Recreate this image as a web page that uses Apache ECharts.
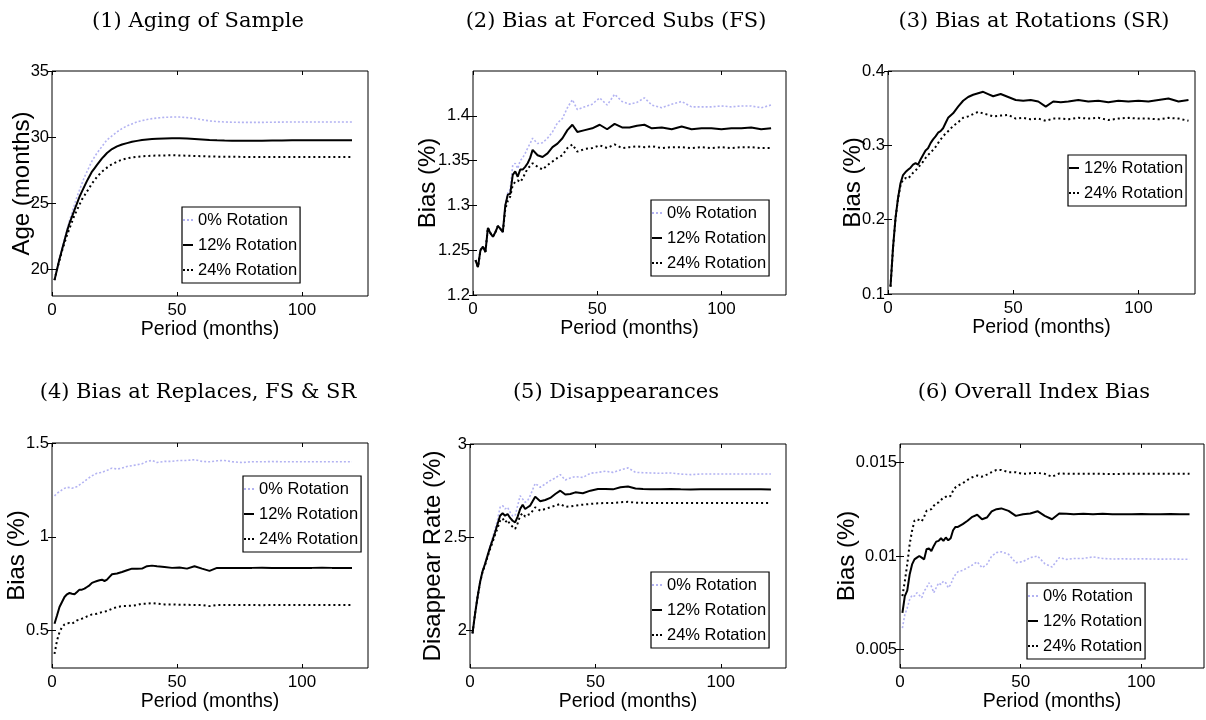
<!DOCTYPE html>
<html>
<head>
<meta charset="utf-8">
<script src="https://cdn.jsdelivr.net/npm/echarts@6.0.0/dist/echarts.min.js"></script>
<style>
  html, body { margin: 0; padding: 0; background: #fff; }
  #chart { width: 1206px; height: 720px; }
</style>
</head>
<body>
<div id="chart"></div>
<script>
// sampled months (x values shared by all panels)
var periods = [1,2,3,4,5,6,7,8,9,10,11,12,13,14,15,16,17,18,19,20,21,22,23,24,
  26,28,30,32,34,36,38,40,
  42,45,48,51,54,57,60,63,66,69,72,
  76,80,84,88,92,96,100,104,108,112,116,120];

var seriesNames = ['0% Rotation', '12% Rotation', '24% Rotation'];
var panelTitles = ['(1) Aging of Sample', '(2) Bias at Forced Subs (FS)', '(3) Bias at Rotations (SR)',
  '(4) Bias at Replaces, FS & SR', '(5) Disappearances', '(6) Overall Index Bias'];
var yNames = ['Age (months)', 'Bias (%)', 'Bias (%)', 'Bias (%)', 'Disappear Rate (%)', 'Bias (%)'];
var xTicks = [0, 50, 100];
var yTicks1 = [20, 25, 30, 35];
var yTicks2 = [1.2, 1.25, 1.3, 1.35, 1.4];
var yTicks3 = [0.1, 0.2, 0.3, 0.4];
var yTicks4 = [0.5, 1, 1.5];
var yTicks5 = [2, 2.5, 3];
var yTicks6 = [0.005, 0.01, 0.015];

// (1) aging of sample
var age0 = [19.2,20.0,20.8,21.6,22.3,23.0,23.7,24.3,24.9,25.5,26.0,26.5,27.0,27.4,27.8,28.2,28.5,28.8,29.05,29.3,29.55,29.8,29.95,30.1,
  30.4,30.65,30.85,31.0,31.15,31.25,31.33,31.4,
  31.45,31.5,31.52,31.52,31.48,31.42,31.32,31.23,31.18,31.15,31.13,
  31.12,31.12,31.12,31.13,31.14,31.15,31.15,31.15,31.15,31.15,31.15,31.15];
var age12 = [19.2,20.0,20.8,21.5,22.2,22.9,23.5,24.0,24.5,25.0,25.5,25.9,26.3,26.7,27.05,27.4,27.65,27.9,28.15,28.4,28.6,28.8,28.95,29.1,
  29.3,29.45,29.55,29.65,29.72,29.78,29.83,29.86,
  29.88,29.9,29.92,29.92,29.9,29.87,29.83,29.79,29.76,29.74,29.73,
  29.73,29.73,29.73,29.74,29.75,29.76,29.76,29.76,29.76,29.76,29.76,29.76];
var age24 = [19.2,20.0,20.7,21.4,22.0,22.6,23.1,23.6,24.1,24.5,24.9,25.3,25.6,25.9,26.2,26.5,26.75,27.0,27.2,27.4,27.55,27.7,27.85,27.95,
  28.15,28.3,28.4,28.47,28.52,28.55,28.58,28.6,
  28.61,28.62,28.63,28.62,28.6,28.58,28.56,28.54,28.53,28.52,28.52,
  28.51,28.51,28.5,28.5,28.5,28.5,28.5,28.5,28.5,28.5,28.5,28.5];

// (2) bias at forced subs
var fs0 = [1.239,1.231,1.250,1.254,1.248,1.275,1.269,1.265,1.270,1.277,1.274,1.270,1.302,1.314,1.318,1.345,1.347,1.341,1.350,1.353,1.358,1.364,1.369,1.375,
  1.369,1.370,1.375,1.382,1.392,1.397,1.409,1.418,
  1.407,1.410,1.413,1.420,1.412,1.424,1.416,1.413,1.415,1.420,1.412,
  1.409,1.413,1.416,1.410,1.410,1.410,1.411,1.410,1.411,1.411,1.409,1.412];
var fs12 = [1.239,1.231,1.250,1.254,1.248,1.275,1.269,1.265,1.270,1.277,1.274,1.270,1.300,1.312,1.313,1.334,1.338,1.332,1.340,1.340,1.343,1.347,1.353,1.362,
  1.356,1.354,1.358,1.365,1.369,1.375,1.384,1.390,
  1.382,1.384,1.386,1.390,1.385,1.391,1.387,1.387,1.389,1.390,1.386,
  1.387,1.385,1.388,1.385,1.386,1.386,1.385,1.386,1.386,1.387,1.385,1.386];
var fs24 = [1.239,1.231,1.250,1.254,1.248,1.275,1.269,1.265,1.270,1.277,1.274,1.270,1.296,1.305,1.310,1.323,1.326,1.328,1.326,1.330,1.336,1.341,1.344,1.347,
  1.343,1.340,1.345,1.349,1.353,1.356,1.364,1.368,
  1.360,1.363,1.364,1.367,1.364,1.368,1.364,1.365,1.366,1.365,1.366,
  1.364,1.365,1.365,1.364,1.365,1.364,1.365,1.364,1.365,1.365,1.364,1.364];

// (3) bias at rotations
var sr12 = [0.110,0.162,0.202,0.229,0.249,0.260,0.264,0.267,0.270,0.274,0.276,0.274,0.281,0.287,0.293,0.296,0.303,0.308,0.312,0.317,0.319,0.323,0.330,0.337,
  0.343,0.352,0.360,0.365,0.368,0.370,0.372,0.369,
  0.366,0.369,0.365,0.361,0.360,0.361,0.359,0.352,0.359,0.358,0.359,
  0.361,0.359,0.360,0.358,0.360,0.359,0.360,0.359,0.361,0.363,0.359,0.361];
var sr24 = [0.110,0.162,0.202,0.228,0.246,0.254,0.256,0.255,0.259,0.263,0.266,0.270,0.274,0.278,0.283,0.287,0.290,0.294,0.298,0.303,0.308,0.312,0.316,0.319,
  0.326,0.331,0.337,0.339,0.342,0.345,0.343,0.341,
  0.339,0.340,0.341,0.336,0.337,0.335,0.336,0.333,0.336,0.336,0.335,
  0.337,0.336,0.337,0.334,0.336,0.337,0.336,0.336,0.335,0.337,0.336,0.333];

// (4) bias at replaces
var rep0 = [1.218,1.232,1.240,1.250,1.258,1.264,1.262,1.259,1.262,1.268,1.277,1.286,1.296,1.307,1.316,1.325,1.333,1.339,1.341,1.343,1.349,1.354,1.360,1.366,
  1.361,1.366,1.375,1.379,1.384,1.389,1.402,1.407,
  1.396,1.402,1.402,1.407,1.407,1.411,1.402,1.400,1.405,1.407,1.400,
  1.396,1.400,1.400,1.401,1.400,1.400,1.400,1.400,1.400,1.400,1.400,1.400];
var rep12 = [0.536,0.580,0.625,0.652,0.679,0.693,0.700,0.696,0.693,0.705,0.718,0.718,0.723,0.732,0.741,0.754,0.759,0.764,0.768,0.771,0.764,0.771,0.786,0.800,
  0.804,0.812,0.821,0.830,0.829,0.830,0.843,0.846,
  0.843,0.839,0.834,0.836,0.830,0.843,0.830,0.818,0.834,0.834,0.833,
  0.834,0.834,0.835,0.833,0.834,0.834,0.834,0.834,0.835,0.834,0.834,0.834];
var rep24 = [0.375,0.446,0.491,0.518,0.532,0.539,0.540,0.536,0.545,0.554,0.557,0.563,0.568,0.575,0.580,0.586,0.588,0.589,0.594,0.598,0.600,0.604,0.610,0.616,
  0.625,0.630,0.631,0.632,0.636,0.643,0.643,0.646,
  0.643,0.639,0.639,0.637,0.637,0.636,0.636,0.630,0.636,0.636,0.636,
  0.636,0.636,0.635,0.636,0.636,0.636,0.636,0.636,0.636,0.636,0.636,0.636];

// (5) disappearances
var dis0 = [1.986,2.089,2.179,2.259,2.320,2.360,2.408,2.455,2.498,2.545,2.595,2.661,2.670,2.652,2.661,2.634,2.615,2.616,2.670,2.723,2.705,2.688,2.697,2.723,
  2.789,2.768,2.786,2.804,2.818,2.836,2.807,2.818,
  2.825,2.821,2.843,2.848,2.854,2.848,2.861,2.872,2.848,2.846,2.845,
  2.843,2.845,2.839,2.836,2.839,2.839,2.839,2.839,2.839,2.839,2.839,2.839];
var dis12 = [1.986,2.089,2.179,2.259,2.318,2.357,2.402,2.446,2.486,2.527,2.571,2.616,2.629,2.616,2.625,2.604,2.589,2.580,2.611,2.652,2.675,2.652,2.661,2.670,
  2.718,2.693,2.700,2.711,2.732,2.750,2.729,2.732,
  2.741,2.736,2.750,2.759,2.759,2.757,2.768,2.772,2.762,2.759,2.758,
  2.758,2.759,2.757,2.756,2.757,2.757,2.757,2.757,2.757,2.757,2.757,2.756];
var dis24 = [1.986,2.089,2.179,2.257,2.314,2.352,2.395,2.437,2.475,2.514,2.550,2.589,2.602,2.580,2.593,2.568,2.557,2.545,2.575,2.616,2.629,2.611,2.620,2.625,
  2.661,2.643,2.652,2.661,2.670,2.679,2.664,2.666,
  2.670,2.675,2.679,2.682,2.684,2.684,2.688,2.690,2.686,2.685,2.684,
  2.684,2.684,2.684,2.684,2.684,2.684,2.684,2.684,2.684,2.684,2.684,2.684];

// (6) overall index bias
var idx0 = [0.00614,0.00686,0.00722,0.00767,0.00790,0.00785,0.00803,0.00790,0.00776,0.00812,0.00830,0.00856,0.00838,0.00803,0.00830,0.00856,0.00847,0.00865,0.00856,0.00830,0.00847,0.00880,0.00901,0.00916,
  0.00923,0.00937,0.00952,0.00969,0.00937,0.00955,0.01000,0.01018,
  0.01023,0.01009,0.00964,0.00970,0.00991,0.01000,0.00959,0.00941,0.00991,0.00982,0.00987,
  0.00987,0.00995,0.00987,0.00984,0.00985,0.00984,0.00985,0.00984,0.00983,0.00984,0.00983,0.00982];
var idx12 = [0.00695,0.00785,0.00815,0.00901,0.00955,0.00982,0.00991,0.01000,0.00991,0.00982,0.01036,0.01041,0.01027,0.01054,0.01077,0.01081,0.01095,0.01081,0.01099,0.01084,0.01095,0.01138,0.01156,0.01156,
  0.01171,0.01189,0.01210,0.01221,0.01197,0.01206,0.01239,0.01251,
  0.01255,0.01242,0.01215,0.01224,0.01228,0.01240,0.01215,0.01197,0.01228,0.01226,0.01224,
  0.01226,0.01224,0.01226,0.01224,0.01224,0.01224,0.01225,0.01224,0.01224,0.01225,0.01224,0.01224];
var idx24 = [0.00785,0.00865,0.00955,0.01063,0.01135,0.01189,0.01197,0.01192,0.01185,0.01210,0.01242,0.01246,0.01251,0.01269,0.01282,0.01287,0.01300,0.01314,0.01318,0.01314,0.01323,0.01350,0.01368,0.01377,
  0.01390,0.01408,0.01422,0.01431,0.01425,0.01436,0.01449,0.01461,
  0.01461,0.01449,0.01449,0.01440,0.01443,0.01445,0.01440,0.01425,0.01442,0.01441,0.01440,
  0.01440,0.01441,0.01440,0.01439,0.01440,0.01441,0.01440,0.01440,0.01441,0.01440,0.01441,0.01440];

var SANS = '"Liberation Sans", Arial, sans-serif';

// line look per rotation rate
var styles = [
  { color: '#b3b3f2', width: 1.6, type: [2, 2], icon: 'path://M0,0H2V2H0Z M4,0H6V2H4Z M8,0H10V2H8Z' },
  { color: '#000000', width: 2, type: 'solid', icon: 'path://M0,0H10V2H0Z' },
  { color: '#000000', width: 2, type: [2, 3], icon: 'path://M0,0H2V2H0Z M4,0H6V2H4Z M8,0H10V2H8Z' }
];

// layout of the six panels
var panels = [
  { grid: [52, 71, 316, 225], xMax: 126.4, yMin: 18, yMax: 35, ticks: yTicks1, gap: 18,
    legend: [182, 207], lines: [age0, age12, age24], show: [0, 1, 2] },
  { grid: [473, 71, 313, 224], xMax: 126, yMin: 1.2, yMax: 1.45, ticks: yTicks2, gap: 33,
    legend: [651, 200], lines: [fs0, fs12, fs24], show: [0, 1, 2] },
  { grid: [888, 71, 307, 223], xMax: 122.6, yMin: 0.1, yMax: 0.4, ticks: yTicks3, gap: 23,
    legend: [1068, 155], lines: [null, sr12, sr24], show: [1, 2] },
  { grid: [52, 443, 316, 225], xMax: 126.4, yMin: 0.3, yMax: 1.5, ticks: yTicks4, gap: 23,
    legend: [243, 476], lines: [rep0, rep12, rep24], show: [0, 1, 2] },
  { grid: [470, 444, 316, 224], xMax: 126, yMin: 1.8, yMax: 3, ticks: yTicks5, gap: 25,
    legend: [651, 572], lines: [dis0, dis12, dis24], show: [0, 1, 2] },
  { grid: [900, 444, 304, 224], xMax: 126, yMin: 0.004, yMax: 0.016, ticks: yTicks6, gap: 41,
    legend: [1027, 583], lines: [idx0, idx12, idx24], show: [0, 1, 2] }
];

var titleX = [198, 616, 1034];
var titleY = [22, 393];

function pairs(vals) {
  return periods.map(function (p, i) { return [p, vals[i]]; });
}

var grids = [], xAxes = [], yAxes = [], series = [], legends = [], graphics = [];

panels.forEach(function (p, k) {
  grids.push({
    left: p.grid[0], top: p.grid[1], width: p.grid[2], height: p.grid[3],
    show: true, borderColor: '#000', borderWidth: 1, backgroundColor: '#fff'
  });
  var tick = { show: true, inside: true, length: 4, lineStyle: { color: '#000' } };
  // bottom x axis with labels, top x axis with ticks only
  xAxes.push({
    type: 'value', gridIndex: k, min: 0, max: p.xMax, position: 'bottom',
    axisLine: { show: false }, splitLine: { show: false },
    axisTick: Object.assign({ customValues: xTicks }, tick),
    axisLabel: { customValues: xTicks, color: '#000', fontFamily: SANS, fontSize: 17, margin: 6 },
    name: 'Period (months)', nameLocation: 'middle', nameGap: 23,
    nameTextStyle: { color: '#000', fontFamily: SANS, fontSize: 19.5 }
  });
  xAxes.push({
    type: 'value', gridIndex: k, min: 0, max: p.xMax, position: 'top',
    axisLine: { show: false }, splitLine: { show: false }, axisLabel: { show: false },
    axisTick: Object.assign({ customValues: xTicks }, tick)
  });
  yAxes.push({
    type: 'value', gridIndex: k, min: p.yMin, max: p.yMax, position: 'left',
    axisLine: { show: false }, splitLine: { show: false },
    axisTick: Object.assign({ customValues: p.ticks }, tick),
    axisLabel: { customValues: p.ticks, color: '#000', fontFamily: SANS, fontSize: 16.5, margin: 3,
      formatter: function (v) { return String(v); } },
    name: yNames[k], nameLocation: 'middle', nameGap: p.gap, nameMoveOverlap: false,
    nameTextStyle: { color: '#000', fontFamily: SANS, fontSize: 24 }
  });
  yAxes.push({
    type: 'value', gridIndex: k, min: p.yMin, max: p.yMax, position: 'right',
    axisLine: { show: false }, splitLine: { show: false }, axisLabel: { show: false },
    axisTick: Object.assign({ customValues: p.ticks }, tick)
  });
  p.lines.forEach(function (vals, j) {
    if (!vals) return;
    series.push({
      type: 'line', name: seriesNames[j], xAxisIndex: 2 * k, yAxisIndex: 2 * k,
      data: pairs(vals), symbol: 'none', smooth: false, z: j === 0 ? 2 : 3,
      lineStyle: { color: styles[j].color, width: styles[j].width, type: styles[j].type },
      itemStyle: { color: styles[j].color }
    });
  });
  legends.push({
    orient: 'vertical', left: p.legend[0], top: p.legend[1],
    data: p.show.map(function (j) {
      return { name: seriesNames[j], icon: styles[j].icon, itemStyle: { color: styles[j].color } };
    }),
    selectedMode: false, itemWidth: 10, itemHeight: 2, itemGap: 3,
    padding: [2, 3, 2, 1], borderColor: '#000', borderWidth: 1.2, backgroundColor: '#fff',
    textStyle: { color: '#000', fontFamily: SANS, fontSize: 16.5, lineHeight: 22 }
  });
  graphics.push({
    type: 'text', x: titleX[k % 3], y: titleY[Math.floor(k / 3)],
    style: { text: panelTitles[k], fill: '#000', font: '21px "DejaVu Serif", serif',
      align: 'center', verticalAlign: 'middle' }
  });
});

var chart = echarts.init(document.getElementById('chart'));
chart.setOption({
  animation: false,
  backgroundColor: '#fff',
  grid: grids,
  xAxis: xAxes,
  yAxis: yAxes,
  legend: legends,
  graphic: graphics,
  series: series
});
</script>
</body>
</html>
